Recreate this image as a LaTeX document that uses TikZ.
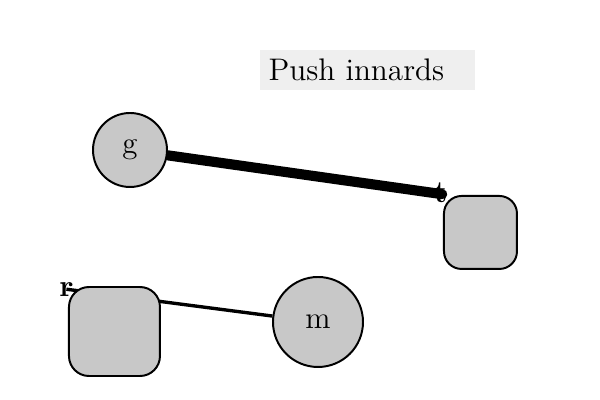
\documentclass[tikz,border=0pt]{standalone}
\usepackage{xcolor}
\usepackage{tikz}
\usetikzlibrary{shapes,positioning,calc,backgrounds}
\definecolor{blobgray}{HTML}{C8C8C8}
\definecolor{titlegray}{HTML}{EFEFEF}
\tikzset{
    blob/.style={circle, draw=black, fill=blobgray, line width=0.7pt, font=\fontsize{11}{13}\selectfont, inner sep=0pt},
    cell/.style={rectangle, rounded corners=0.22cm, draw=black, fill=blobgray, line width=0.7pt, inner sep=0pt},
    tag/.style={inner sep=0pt, font=\fontsize{11}{13}\selectfont\bfseries},
}

\begin{document}
\begin{tikzpicture}
    \useasboundingbox (0,0) rectangle (7.5,5);

    % Title
    \fill [titlegray] (3.25,3.875) rectangle (5.9375,4.375);
    \node [anchor=west, inner sep=0pt, font=\fontsize{11.1}{13}\selectfont] (title) at (3.35,4.125) {Push innards};

    % Nodes
    \node [blob, minimum size=0.925cm] (g) at (1.625,3.125) {g};
    \node [blob, minimum size=1.125cm] (m) at (3.975,0.975) {m};
    \node [cell, minimum size=0.9125cm] (bt) at (6.006,2.094) {};
    \node [cell, minimum width=1.1375cm, minimum height=1.1125cm, rounded corners=0.25cm] (br) at (1.431,0.856) {};

    % Tags on the corners
    \node [tag] (t) at ($(bt.north west)+(-0.03,0.03)$) {t};
    \node [tag] (r) at ($(br.north west)+(-0.02,-0.04)$) {r};

    % Links, behind the cells
    \begin{scope}[on background layer]
        \draw [line width=3.6pt, line cap=round] (g) -- ($(bt.north west)+(-0.01,0.01)$);
        \draw [line width=1.2pt] (m) -- (r.center);
    \end{scope}
\end{tikzpicture}
\end{document}
